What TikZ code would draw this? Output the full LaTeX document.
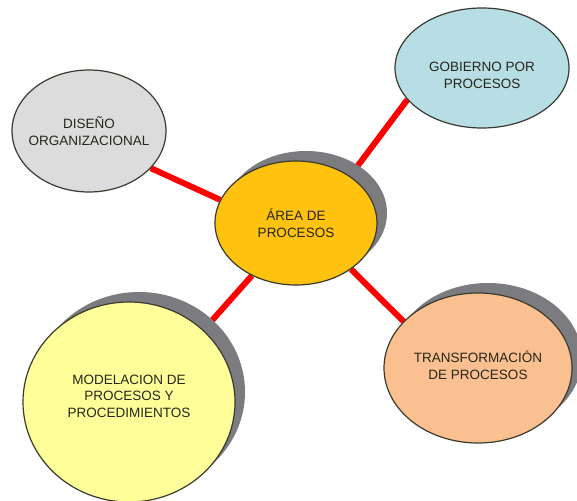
\documentclass[tikz,border=0pt]{standalone}
\usepackage{fontspec}
\setmainfont{Liberation Sans}
\usetikzlibrary{shapes.geometric,shadows,backgrounds}
\definecolor{borde}{HTML}{3A3A30}
\definecolor{texto}{HTML}{26261C}
\definecolor{sombragris}{HTML}{7C7C80}
\definecolor{grisclaro}{HTML}{DCDCDC}
\definecolor{oro}{HTML}{FFC20E}
\definecolor{celeste}{HTML}{B7DDE5}
\definecolor{amarillo}{HTML}{FFFF99}
\definecolor{durazno}{HTML}{FAC090}
\begin{document}
\begin{tikzpicture}[x=1pt, y=-1pt,
    burbuja/.style={ellipse, draw=borde, line width=1.2pt, inner xsep=-25pt, inner ysep=-10pt,
      align=center, text=texto, font=\fontsize{13.5}{16.5}\selectfont},
    sombra/.style={drop shadow={shadow xshift=10pt, shadow yshift=10pt, fill=sombragris, opacity=1}},
    enlace/.style={red, line width=6pt}]
    \useasboundingbox (0,0) rectangle (577,500);

    % nodo central
    \node[burbuja, sombra, fill=oro, minimum width=162pt, minimum height=124pt] (area) at (296,223) {ÁREA DE\\PROCESOS};

    % nodos exteriores
    \node[burbuja, fill=grisclaro, minimum width=154pt, minimum height=122pt] (diseno) at (89,131) {DISEÑO\\ORGANIZACIONAL};
    \node[burbuja, fill=celeste, minimum width=174pt, minimum height=120pt] (gobierno) at (482,68) {\rule{0pt}{0pt}\\[7.5pt]GOBIERNO POR\\PROCESOS};
    \node[burbuja, sombra, fill=amarillo, minimum width=212pt, minimum height=200pt] (modelacion) at (129,402) {MODELACION DE\\PROCESOS Y\\PROCEDIMIENTOS\\[-4.5pt]\rule{0pt}{0pt}};
    \node[burbuja, sombra, fill=durazno, minimum width=188pt, minimum height=150pt] (transformacion) at (478,368) {TRANSFORMACIÓN\\DE PROCESOS\\[-10.5pt]\rule{0pt}{0pt}};

    % enlaces rojos, por debajo de los nodos y sus sombras
    \begin{scope}[on background layer]
        \draw[enlace] (diseno.-31) -- (area.163);
        \draw[enlace] (gobierno.203) -- (area.41);
        \draw[enlace] (area.230) -- (modelacion.44);
        \draw[enlace] (area.-40) -- (transformacion.148);
    \end{scope}
\end{tikzpicture}
\end{document}
